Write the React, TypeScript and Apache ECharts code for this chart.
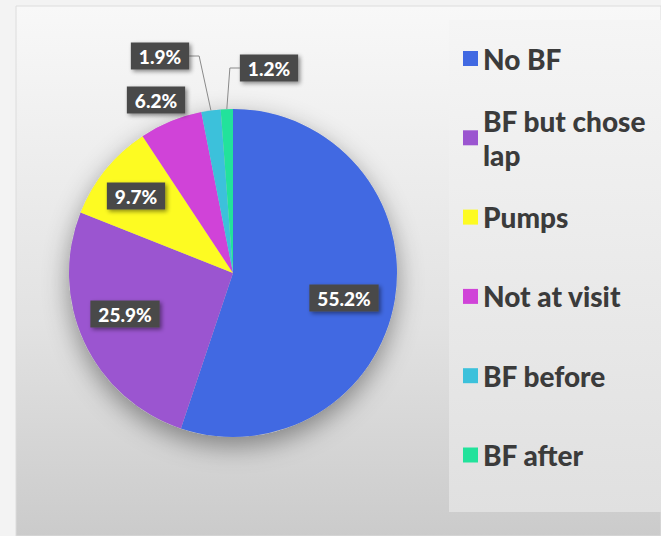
import React, { useEffect, useRef } from "react";
import * as echarts from "echarts";

const categories = ["No BF", "BF but chose lap", "Pumps", "Not at visit", "BF before", "BF after"];
const values = [55.2, 25.9, 9.7, 6.2, 1.9, 1.2];
const colors = ["#4169E2", "#9B55D0", "#FDFB22", "#D043D8", "#3CC1DB", "#22E29B"];
const labelPos = [
  [344, 298],
  [125, 314],
  [136, 196],
  [156, 100],
  [160, 56],
  [269, 68],
];
const guided = [false, false, false, false, true, true];

export default function App() {
  const ref = useRef<HTMLDivElement>(null);
  useEffect(() => {
    document.body.style.margin = "0";
    const chart = echarts.init(ref.current!, null, { renderer: "svg" });
    const center = [233, 273];
    const radius = 164;
    const lh = 34;
    const option: any = {
      animation: false,
      backgroundColor: "#f3f3f3",
      graphic: [
        {
          type: "rect",
          z: -10,
          shape: { x: 16, y: 6, width: 645, height: 530 },
          style: {
            fill: new echarts.graphic.LinearGradient(0, 0, 0, 1, [
              { offset: 0, color: "#f8f8f8" },
              { offset: 0.6, color: "#e2e2e2" },
              { offset: 1, color: "#cbcbcb" },
            ]),
            stroke: "#dcdcdc",
            lineWidth: 1,
          },
        },
        {
          type: "rect",
          z: -9,
          shape: { x: 449, y: 20, width: 212, height: 492 },
          style: {
            fill: new echarts.graphic.LinearGradient(0, 0, 0, 1, [
              { offset: 0, color: "#f5f5f5" },
              { offset: 1, color: "#e0e0e0" },
            ]),
          },
        },
      ],
      legend: {
        orient: "vertical",
        left: 463,
        top: 58.5 - 1.5 * lh,
        padding: 0,
        itemWidth: 15,
        itemHeight: 15,
        itemGap: 79.3 - 3 * lh,
        icon: "rect",
        formatter: (name: string) => (name === "BF but chose lap" ? "BF but chose\nlap" : name),
        data: categories.map((name) => ({
          name,
          textStyle: {
            padding: name === "BF but chose lap" ? [lh, 0, 0, 0] : [lh, 0, lh, 0],
            backgroundColor: "rgba(0,0,0,0)",
          },
        })),
        textStyle: {
          fontFamily: "Lato",
          fontWeight: 900,
          fontSize: 28,
          lineHeight: lh,
          color: "#3b3b3b",
        },
      },
      series: [
        {
          type: "pie",
          name: "shadow",
          silent: true,
          center,
          radius,
          z: 1,
          label: { show: false },
          labelLine: { show: false },
          itemStyle: {
            color: "#c8c8c8",
            shadowBlur: 26,
            shadowColor: "rgba(0,0,0,0.4)",
            shadowOffsetY: 9,
          },
          data: [{ name: "", value: 1 }],
        },
        {
          type: "pie",
          name: "BF",
          center,
          radius,
          z: 2,
          startAngle: 90,
          clockwise: true,
          avoidLabelOverlap: false,
          itemStyle: { borderWidth: 0 },
          label: {
            show: true,
            position: "outside",
            formatter: (p: any) => p.value.toFixed(1) + "%",
            color: "#ffffff",
            fontFamily: "Lato",
            fontWeight: 900,
            fontSize: 19,
            lineHeight: 19,
            backgroundColor: "#4a4a4a",
            padding: [4, 8],
            shadowColor: "rgba(0,0,0,0.45)",
            shadowBlur: 4,
            shadowOffsetX: 2,
            shadowOffsetY: 2,
          },
          labelLine: {
            show: true,
            length: 10,
            length2: 10,
            lineStyle: { color: "#8a8a8a", width: 1 },
          },
          labelLayout: (params: any) => {
            const p = labelPos[params.dataIndex];
            return { x: p[0], y: p[1], align: "center", verticalAlign: "middle" };
          },
          data: categories.map((name, i) => ({
            name,
            value: values[i],
            itemStyle: { color: colors[i] },
            labelLine: { show: guided[i] },
          })),
        },
      ],
    };
    chart.setOption(option);
    return () => chart.dispose();
  }, []);
  return <div ref={ref} style={{ width: 661, height: 536 }} />;
}
